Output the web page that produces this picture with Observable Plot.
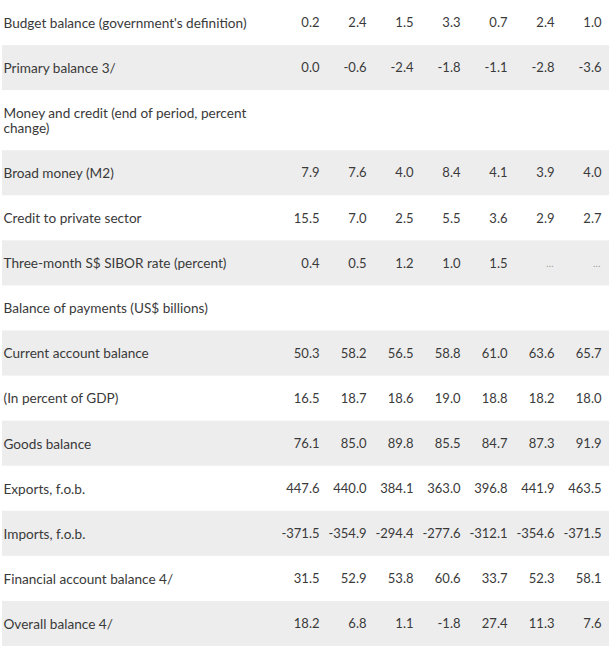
<!DOCTYPE html>
<html>
<head>
<meta charset="utf-8">
<script src="https://cdn.jsdelivr.net/npm/d3@7"></script>
<script src="https://cdn.jsdelivr.net/npm/@observablehq/plot@0.6"></script>
<style>
  html, body { margin: 0; padding: 0; background: #fff; }
  #chart svg { display: block; }
</style>
</head>
<body>
<div id="chart"></div>
<script>
// Row labels (a header row may wrap onto two lines)
const labels = [
  "Budget balance (government's definition)",
  "Primary balance 3/",
  "Money and credit (end of period, percent\nchange)",
  "Broad money (M2)",
  "Credit to private sector",
  "Three-month S$ SIBOR rate (percent)",
  "Balance of payments (US$ billions)",
  "Current account balance",
  "(In percent of GDP)",
  "Goods balance",
  "Exports, f.o.b.",
  "Imports, f.o.b.",
  "Financial account balance 4/",
  "Overall balance 4/"
];

// Seven value columns
const columns = [0, 1, 2, 3, 4, 5, 6];

// Values per row (null row = section header, null cell = "…")
const values = [
  [0.2, 2.4, 1.5, 3.3, 0.7, 2.4, 1.0],
  [0.0, -0.6, -2.4, -1.8, -1.1, -2.8, -3.6],
  null,
  [7.9, 7.6, 4.0, 8.4, 4.1, 3.9, 4.0],
  [15.5, 7.0, 2.5, 5.5, 3.6, 2.9, 2.7],
  [0.4, 0.5, 1.2, 1.0, 1.5, null, null],
  null,
  [50.3, 58.2, 56.5, 58.8, 61.0, 63.6, 65.7],
  [16.5, 18.7, 18.6, 19.0, 18.8, 18.2, 18.0],
  [76.1, 85.0, 89.8, 85.5, 84.7, 87.3, 91.9],
  [447.6, 440.0, 384.1, 363.0, 396.8, 441.9, 463.5],
  [-371.5, -354.9, -294.4, -277.6, -312.1, -354.6, -371.5],
  [31.5, 52.9, 53.8, 60.6, 33.7, 52.3, 58.1],
  [18.2, 6.8, 1.1, -1.8, 27.4, 11.3, 7.6]
];

// Build row extents: one-line rows take 3 units, two-line rows 4 units
let acc = 0;
const rows = labels.map((label, i) => {
  const lines = label.split("\n").length;
  const size = lines > 1 ? 4 : 3;
  const r = {i, label, y1: acc, y2: acc + size, y: acc + size / 2, shaded: i % 2 === 1};
  acc += size;
  return r;
});
const total = acc;

const cells = [];
rows.forEach(r => {
  const v = values[r.i];
  if (!v) return;
  columns.forEach(c => {
    const val = v[c];
    cells.push({col: c, y: r.y, text: val == null ? "…" : val.toFixed(1), missing: val == null});
  });
});

const font = "Lato, 'Open Sans', sans-serif";

const chart = Plot.plot({
  width: 609,
  height: 662,
  marginTop: 0,
  marginBottom: 16,
  marginLeft: 0,
  marginRight: 0,
  style: {fontFamily: font, fontSize: "13px", color: "#333", background: "#fff"},
  x: {type: "point", domain: columns, range: [318, 602], padding: 0, axis: null},
  y: {domain: [0, total], range: [0, 646], axis: null},
  marks: [
    Plot.rect(rows.filter(r => r.shaded), {y1: "y1", y2: "y2", fill: "#ededed", insetLeft: 2}),
    Plot.text(rows, {
      y: "y", text: "label", frameAnchor: "left", textAnchor: "start", dx: 3,
      lineAnchor: "middle", lineHeight: 1.12, fill: "#3a3a3a", fontSize: 13.6
    }),
    Plot.text(cells.filter(d => !d.missing), {
      x: "col", y: "y", text: "text", textAnchor: "end", lineAnchor: "middle",
      fill: "#3a3a3a", fontSize: 13
    }),
    Plot.text(cells.filter(d => d.missing), {
      x: "col", y: "y", text: "text", textAnchor: "end", lineAnchor: "middle",
      fill: "#999", fontSize: 10, dx: -1
    })
  ]
});
document.getElementById("chart").appendChild(chart);
</script>
</body>
</html>
